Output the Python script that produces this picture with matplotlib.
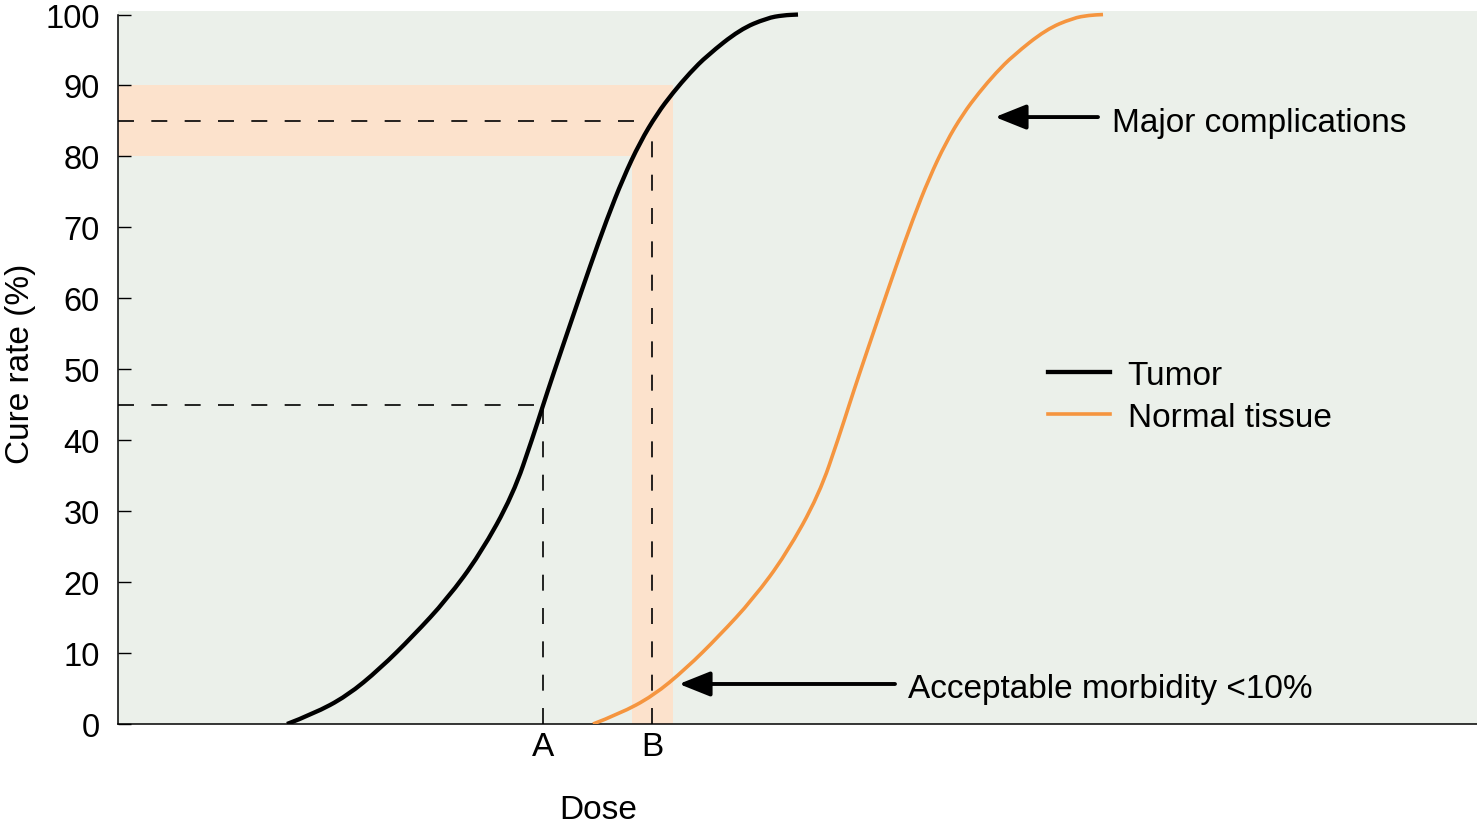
import matplotlib
matplotlib.use("Agg")
import matplotlib.pyplot as plt
from matplotlib.patches import Rectangle, PathPatch
from matplotlib.path import Path

plt.rcParams['font.family'] = ['Liberation Sans', 'DejaVu Sans']
plt.rcParams['lines.scale_dashes'] = False

# ---- data (dose in arbitrary units, cure rate in %) ----
tumor_dose = [16.9, 19.5, 22.9, 26.2, 29.5, 32.9, 36.2, 39.5, 41.5, 42.5, 43.5,
              45.5, 47.2, 48.9, 50.5, 52.2, 53.9, 55.5, 57.2, 58.9, 62.2, 64.9,
              66.5, 68.0]
tumor_rate = [0, 1.4, 3.95, 7.8, 12.4, 17.6, 23.9, 32.3, 40.5, 44.9, 49.2,
              57.5, 64.5, 71.2, 76.9, 82.0, 86.0, 89.0, 91.8, 94.2, 97.9, 99.5,
              99.9, 100]
normal_dose = [47.5, 50.1, 53.5, 56.8, 60.1, 63.5, 66.8, 70.1, 72.1, 73.1, 74.1,
               76.1, 77.8, 79.5, 81.1, 82.8, 84.5, 86.1, 87.8, 89.5, 92.8, 95.5,
               97.1, 98.5]
normal_rate = [0, 1.4, 3.95, 7.8, 12.4, 17.6, 23.9, 32.3, 40.5, 44.9, 49.2,
               57.5, 64.5, 71.2, 76.9, 82.0, 86.0, 89.0, 91.8, 94.2, 97.9, 99.5,
               99.9, 100]

dose_A, rate_A = 42.5, 45
dose_B, rate_B = 53.4, 85
band_rate = (80, 90)
band_dose = (51.4, 55.5)

xtick_labels = ['A', 'B']
yticks = list(range(0, 101, 10))

BG = '#EBF0EA'
PEACH = '#FCE2CC'
ORANGE = '#F5953F'
FS = 24


def smooth_path(xs, ys):
    """Quadratic B-spline path using the data points as control points."""
    verts = [(xs[0], ys[0])]
    codes = [Path.MOVETO]
    for i in range(1, len(xs) - 1):
        verts.append((xs[i], ys[i]))
        verts.append(((xs[i] + xs[i + 1]) / 2, (ys[i] + ys[i + 1]) / 2))
        codes += [Path.CURVE3, Path.CURVE3]
    verts.append((xs[-1], ys[-1]))
    codes.append(Path.LINETO)
    return Path(verts, codes)


fig = plt.figure(figsize=(14.77, 8.29), dpi=100)
ax = fig.add_axes([118 / 1477, 104 / 829, 1359 / 1477, 713 / 829])
ax.set_facecolor(BG)
ax.set_xlim(0, 135.9)
ax.set_ylim(0, 100.5)

# shaded bands
ax.add_patch(Rectangle((0, band_rate[0]), band_dose[1], band_rate[1] - band_rate[0],
                       facecolor=PEACH, edgecolor='none', zorder=1))
ax.add_patch(Rectangle((band_dose[0], 0), band_dose[1] - band_dose[0], band_rate[0],
                       facecolor=PEACH, edgecolor='none', zorder=1))

# dashed guides
dash = (11.5, 12.5)
for d, r in [(dose_A, rate_A), (dose_B, rate_B)]:
    ax.plot([0, d], [r, r], color='black', lw=1.2, dashes=dash, zorder=2)
    ax.plot([d, d], [0, r], color='black', lw=1.2, dashes=dash, zorder=2)

# curves (smooth paths through the read points)
ax.add_patch(PathPatch(smooth_path(tumor_dose, tumor_rate), facecolor='none',
                       edgecolor='black', lw=3.1, capstyle='butt', zorder=3))
ax.add_patch(PathPatch(smooth_path(normal_dose, normal_rate), facecolor='none',
                       edgecolor=ORANGE, lw=2.6, capstyle='butt', zorder=3))
# legend proxies
ax.plot([], [], color='black', lw=3.1, label='Tumor')
ax.plot([], [], color=ORANGE, lw=2.6, label='Normal tissue')

# annotations
arrow = dict(arrowstyle='-|>,head_length=0.95,head_width=0.38', color='black',
             lw=2.8, mutation_scale=20, shrinkA=0, shrinkB=0)
ax.annotate('', xy=(87.7, 85.55), xytext=(98.0, 85.55), arrowprops=arrow)
ax.text(99.4, 84.85, 'Major complications', fontsize=FS, ha='left', va='center')
ax.annotate('', xy=(56.1, 5.64), xytext=(77.7, 5.64), arrowprops=arrow)
ax.text(79.0, 5.0, 'Acceptable morbidity <10%', fontsize=FS, ha='left', va='center')

# axes styling
for s in ['top', 'right']:
    ax.spines[s].set_visible(False)
ax.spines['left'].set_bounds(0, 100)
ax.spines['left'].set_linewidth(1.1)
ax.spines['bottom'].set_linewidth(1.1)

ax.set_yticks(yticks)
ax.set_yticklabels([str(v) for v in yticks])
ax.tick_params(axis='y', direction='in', length=9.5, width=1.0, pad=13, labelsize=23.5)
ax.set_xticks([dose_A, dose_B])
ax.set_xticklabels(xtick_labels)
ax.tick_params(axis='x', length=0, pad=5, labelsize=FS)

ax.set_ylabel('Cure rate (%)', fontsize=FS)
ax.yaxis.set_label_coords(-0.060, 0.507)
ax.set_xlabel('Dose', fontsize=FS)
ax.xaxis.set_label_coords(0.353, -0.098)

leg = ax.legend(loc='upper left', bbox_to_anchor=(0.684, 0.511), frameon=False,
                fontsize=FS, handlelength=1.86, handletextpad=0.54,
                labelspacing=0.34, borderaxespad=0, borderpad=0)

fig.savefig('out.png', dpi=100)
